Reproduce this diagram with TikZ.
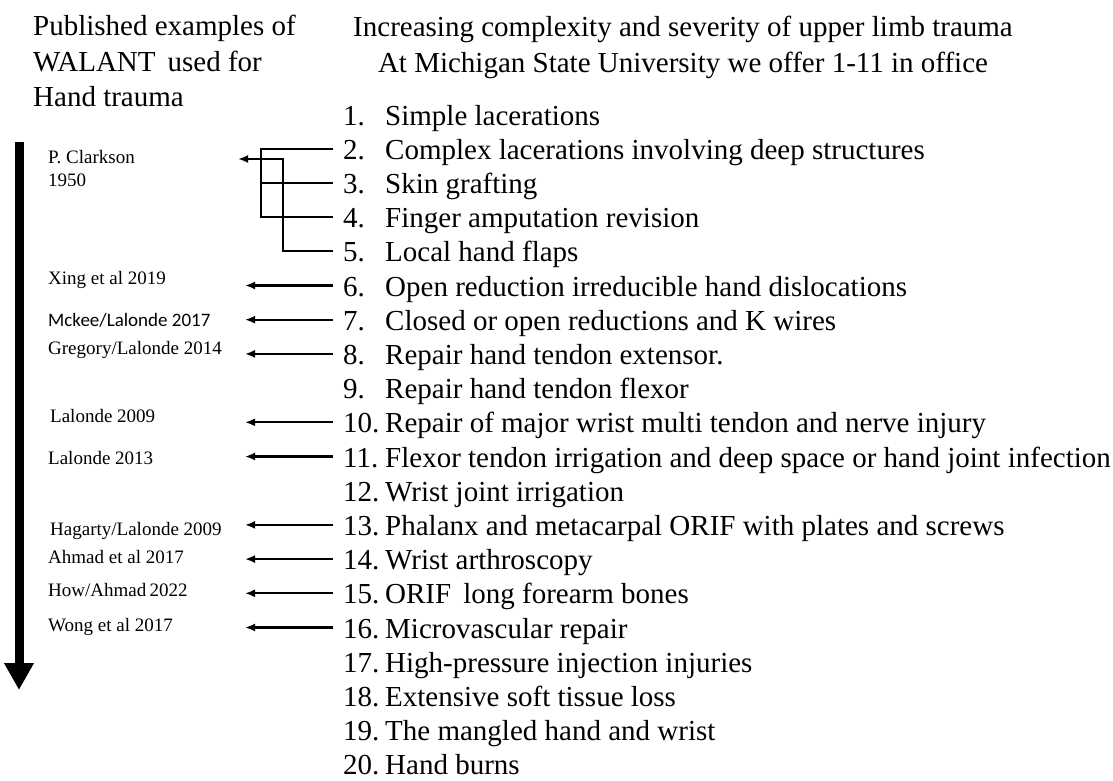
\documentclass[tikz,border=0pt]{standalone}
\usepackage{fontspec}
\setmainfont{Liberation Serif}
\newfontfamily\calibri{Carlito}
\usetikzlibrary{arrows.meta}

\begin{document}
\begin{tikzpicture}[x=1pt,y=-1pt,
	it/.style={anchor=west,inner xsep=10pt,inner ysep=0pt,text height=23pt,%
		text depth=2pt,font=\fontsize{29}{34}\selectfont},%
	hd/.style={inner sep=0pt,font=\fontsize{29}{35.5}\selectfont},%
	au/.style={anchor=base west,inner sep=0pt,font=\fontsize{19}{23}\selectfont},%
	ln/.style={line width=2.1pt},%
	ar/.style={line width=2.1pt,-{Latex[length=10pt,width=8pt]}}]
	\useasboundingbox (0,0) rectangle (1113,781);
	% headings
	\node[hd,anchor=north west,align=left] (hleft) at (33,15)
		{Published examples of\\WALANT\, used for\\Hand trauma};
	\node[hd,anchor=north,align=center] (hright) at (683,16)
		{Increasing complexity and severity of upper limb trauma\\
		At Michigan State University we offer 1-11 in office};
	% list of injuries
	\foreach \n/\t in {1/Simple lacerations,
		2/Complex lacerations involving deep structures,
		3/Skin grafting,
		4/Finger amputation revision,
		5/Local hand flaps,
		6/Open reduction irreducible hand dislocations,
		7/Closed or open reductions and K wires,
		8/Repair hand tendon extensor.,
		9/Repair hand tendon flexor,
		10/Repair of major wrist multi tendon and nerve injury,
		11/Flexor tendon irrigation and deep space or hand joint infection,
		12/Wrist joint irrigation,
		13/Phalanx and metacarpal ORIF with plates and screws,
		14/Wrist arthroscopy,
		15/ORIF\, long forearm bones,
		16/Microvascular repair,
		17/High-pressure injection injuries,
		18/Extensive soft tissue loss,
		19/The mangled hand and wrist,
		20/Hand burns}
		\node[it] (i\n) at (333,{114.5+(\n-1)*34.2}) {\makebox[42pt][l]{\n.}\t};
	% published examples
	\node[au,anchor=north west,align=left] (c2) at (48,150) {P. Clarkson\\1950};
	\node[au] (c6) at (48,284) {Xing et al 2019};
	\node[au,font=\fontsize{19}{23}\calibri] (c7) at (48,326) {Mckee/Lalonde 2017};
	\node[au] (c8) at (48,354) {Gregory/Lalonde 2014};
	\node[au] (c10) at (50,422) {Lalonde 2009};
	\node[au] (c11) at (48,464) {Lalonde 2013};
	\node[au] (c13) at (50,535) {Hagarty/Lalonde 2009};
	\node[au] (c14) at (48,563) {Ahmad et al 2017};
	\node[au] (c15) at (48,596) {How/Ahmad\,2022};
	\node[au] (c16) at (48,631) {Wong et al 2017};
	% connectors
	\coordinate (tip) at (245,0);
	\coordinate (b1) at (261,0);
	\coordinate (b2) at (283,159);
	\coordinate (tipc) at (238,159);
	\draw[ln] (i2.west) -- (i2.west -| b1) |- (i4.west);
	\draw[ln] (i3.west) -- (i3.west -| b1);
	\draw[ar] (i5.west) -| (b2) -- (tipc);
	\foreach \n in {6,7,8,10,11,13,14,15,16}
		\draw[ar] (i\n.west) -- (i\n.west -| tip);
	% timeline arrow
	\coordinate (ttop) at (19,142);
	\coordinate (tbot) at (19,690);
	\draw[line width=9pt,-{Triangle[width=28pt,length=27pt]}] (ttop) -- (tbot);
\end{tikzpicture}
\end{document}
